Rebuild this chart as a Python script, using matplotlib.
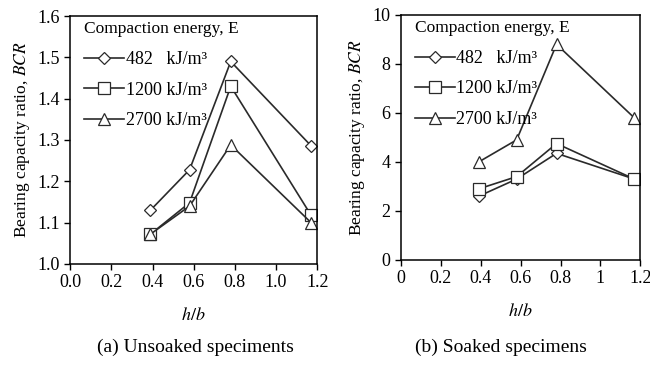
import matplotlib.pyplot as plt

plt.rcParams['font.family'] = ['Liberation Serif', 'DejaVu Serif']
plt.rcParams['mathtext.fontset'] = 'stix'

# ---------- DATA ----------
hb = [0.39, 0.58, 0.78, 1.17]
labels = ["482   kJ/m³", "1200 kJ/m³", "2700 kJ/m³"]

unsoaked_482 = [1.13, 1.228, 1.49, 1.286]
unsoaked_1200 = [1.072, 1.148, 1.43, 1.118]
unsoaked_2700 = [1.072, 1.14, 1.288, 1.10]

soaked_482 = [2.6, 3.3, 4.35, 3.3]
soaked_1200 = [2.9, 3.4, 4.75, 3.3]
soaked_2700 = [4.0, 4.9, 8.8, 5.8]

markers = ["D", "s", "^"]
msizes = [6, 9, 9]

# ---------- FIGURE ----------
fig = plt.figure(figsize=(6.5, 3.65), dpi=100)
ax1 = fig.add_axes([0.108, 0.277, 0.380, 0.679])
ax2 = fig.add_axes([0.617, 0.288, 0.368, 0.671])


def draw(ax, series):
    for ys, m, ms, lab in zip(series, markers, msizes, labels):
        ax.plot(hb, ys, color="#2a2a2a", lw=1.2, marker=m, ms=ms,
                mfc="white", mec="#2a2a2a", mew=0.9, label=lab)
    ax.tick_params(direction="out", labelsize=13, length=4, width=1)
    for s in ax.spines.values():
        s.set_linewidth(1.1)
    ax.set_ylabel("Bearing capacity ratio, $\\it{BCR}$", fontsize=12.5, labelpad=4)
    ax.set_xlabel("$\\it{h/b}$", fontsize=13, labelpad=11)
    ax.legend(loc="upper left", bbox_to_anchor=(0.035, 1.0), frameon=False, fontsize=13,
              title="Compaction energy, E", title_fontsize=12.5,
              alignment="left", handlelength=2.2, handletextpad=0.1,
              borderaxespad=0.1, borderpad=0.2, labelspacing=0.75)


draw(ax1, [unsoaked_482, unsoaked_1200, unsoaked_2700])
ax1.set_xlim(0, 1.2)
ax1.set_ylim(1.0, 1.6)
ax1.set_xticks([0, 0.2, 0.4, 0.6, 0.8, 1.0, 1.2])
ax1.set_xticklabels(["0.0", "0.2", "0.4", "0.6", "0.8", "1.0", "1.2"])
ax1.set_yticks([1.0, 1.1, 1.2, 1.3, 1.4, 1.5, 1.6])
ax1.set_yticklabels(["1.0", "1.1", "1.2", "1.3", "1.4", "1.5", "1.6"])

draw(ax2, [soaked_482, soaked_1200, soaked_2700])
ax2.set_xlim(0, 1.2)
ax2.set_ylim(0, 10)
ax2.set_xticks([0, 0.2, 0.4, 0.6, 0.8, 1.0, 1.2])
ax2.set_xticklabels(["0", "0.2", "0.4", "0.6", "0.8", "1", "1.2"])
ax2.set_yticks([0, 2, 4, 6, 8, 10])

fig.text(0.30, 0.035, "(a) Unsoaked speciments", ha="center", fontsize=14)
fig.text(0.77, 0.035, "(b) Soaked specimens", ha="center", fontsize=14)

fig.savefig("out.png", dpi=100)
